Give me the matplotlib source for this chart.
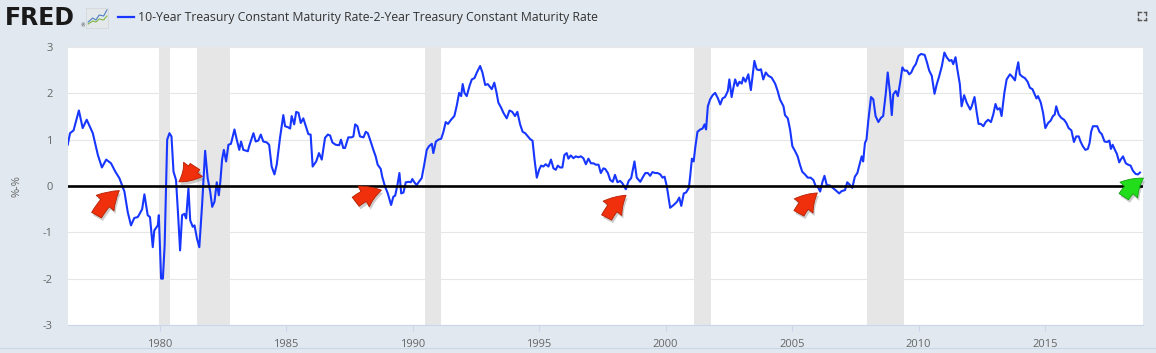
import matplotlib
matplotlib.use("Agg")
import matplotlib.pyplot as plt
import matplotlib.transforms as mtransforms
from matplotlib.lines import Line2D

# ---------------- data ----------------
years_76_83 = [1976.37, 1976.46, 1976.60, 1976.81, 1976.96, 1977.12, 1977.36, 1977.56, 1977.72, 1977.89,
               1978.08, 1978.25, 1978.41, 1978.61, 1978.74, 1978.87, 1979.00, 1979.14, 1979.31, 1979.40,
               1979.53, 1979.62, 1979.73, 1979.79, 1979.93, 1979.97, 1980.06, 1980.13, 1980.20, 1980.30,
               1980.39, 1980.47, 1980.55, 1980.65, 1980.74, 1980.81, 1980.89, 1980.98, 1981.05, 1981.14,
               1981.21, 1981.31, 1981.38, 1981.48, 1981.57, 1981.68, 1981.80, 1981.90, 1982.00, 1982.08,
               1982.17, 1982.26, 1982.34, 1982.40, 1982.47, 1982.54, 1982.63, 1982.72, 1982.82, 1982.96,
               1983.05, 1983.15, 1983.22, 1983.31, 1983.49]
spread_76_83 = [0.89, 1.14, 1.20, 1.63, 1.25, 1.43, 1.14, 0.67, 0.40, 0.57,
                0.49, 0.31, 0.17, -0.12, -0.56, -0.85, -0.69, -0.67, -0.50, -0.18,
                -0.63, -0.67, -1.32, -0.96, -0.85, -0.63, -2.00, -2.00, -1.28, 1.00,
                1.14, 1.07, 0.31, 0.13, -0.70, -1.39, -0.63, -0.60, -0.70, -0.05,
                -0.74, -0.88, -0.85, -1.14, -1.32, -0.41, 0.76, 0.17, -0.12, -0.45,
                -0.34, 0.08, -0.20, 0.09, 0.57, 0.78, 0.53, 0.89, 0.91, 1.22,
                1.00, 0.78, 0.96, 0.78, 0.75]

years_83_90 = [1983.54, 1983.71, 1983.80, 1983.90, 1984.00, 1984.10, 1984.24, 1984.33, 1984.43, 1984.54,
               1984.63, 1984.76, 1984.89, 1984.96, 1985.07, 1985.16, 1985.22, 1985.32, 1985.40, 1985.49,
               1985.58, 1985.68, 1985.82, 1985.88, 1985.97, 1986.05, 1986.19, 1986.30, 1986.41, 1986.54,
               1986.65, 1986.74, 1986.83, 1986.96, 1987.10, 1987.17, 1987.26, 1987.33, 1987.46, 1987.59,
               1987.66, 1987.73, 1987.82, 1987.92, 1988.06, 1988.15, 1988.23, 1988.32, 1988.45, 1988.54,
               1988.62, 1988.74, 1988.80, 1988.91, 1989.02, 1989.15, 1989.24, 1989.31, 1989.40, 1989.48,
               1989.55, 1989.64, 1989.73, 1989.84, 1989.93, 1989.99, 1990.07, 1990.16, 1990.25, 1990.36,
               1990.46]
spread_83_90 = [0.86, 1.14, 0.96, 0.98, 1.11, 0.96, 0.94, 0.89, 0.42, 0.25,
                0.46, 1.04, 1.53, 1.29, 1.27, 1.24, 1.51, 1.33, 1.60, 1.58,
                1.36, 1.46, 1.22, 1.12, 1.11, 0.42, 0.53, 0.71, 0.57, 1.04,
                1.11, 1.09, 0.94, 0.89, 0.88, 1.00, 0.82, 0.82, 1.05, 1.05,
                1.07, 1.33, 1.29, 1.07, 1.05, 1.17, 1.14, 1.00, 0.78, 0.64,
                0.46, 0.37, 0.20, -0.01, -0.16, -0.41, -0.23, -0.21, 0.02, 0.28,
                -0.16, -0.14, 0.08, 0.09, 0.08, 0.15, 0.08, 0.02, 0.09, 0.17,
                0.46]

years_90_97 = [1990.56, 1990.65, 1990.76, 1990.82, 1990.92, 1991.02, 1991.13, 1991.22, 1991.31, 1991.40,
               1991.52, 1991.65, 1991.74, 1991.84, 1991.92, 1991.98, 1992.05, 1992.14, 1992.25, 1992.34,
               1992.45, 1992.54, 1992.67, 1992.76, 1992.87, 1992.97, 1993.06, 1993.13, 1993.23, 1993.32,
               1993.39, 1993.50, 1993.59, 1993.72, 1993.83, 1993.94, 1994.05, 1994.14, 1994.25, 1994.35,
               1994.45, 1994.56, 1994.65, 1994.74, 1994.82, 1994.91, 1995.00, 1995.08, 1995.17, 1995.26,
               1995.37, 1995.47, 1995.57, 1995.66, 1995.74, 1995.83, 1995.92, 1996.00, 1996.09, 1996.16,
               1996.25, 1996.36, 1996.45, 1996.55, 1996.65, 1996.75, 1996.85, 1996.95, 1997.05, 1997.15,
               1997.24, 1997.35, 1997.44, 1997.54]
spread_90_97 = [0.78, 0.86, 0.91, 0.71, 0.96, 1.00, 1.02, 1.17, 1.38, 1.34,
                1.43, 1.51, 1.72, 2.01, 1.94, 2.20, 2.01, 1.94, 2.16, 2.30,
                2.33, 2.45, 2.59, 2.45, 2.18, 2.20, 2.14, 2.09, 2.23, 2.01,
                1.80, 1.69, 1.58, 1.46, 1.63, 1.60, 1.51, 1.60, 1.33, 1.17,
                1.14, 1.07, 1.01, 0.98, 0.57, 0.18, 0.35, 0.44, 0.42, 0.47,
                0.42, 0.57, 0.38, 0.35, 0.44, 0.40, 0.40, 0.67, 0.71, 0.59,
                0.66, 0.60, 0.64, 0.62, 0.64, 0.60, 0.47, 0.59, 0.49, 0.49,
                0.46, 0.46, 0.28, 0.38]

years_97_04 = [1997.61, 1997.72, 1997.81, 1997.91, 1998.00, 1998.10, 1998.20, 1998.29, 1998.43, 1998.54,
               1998.64, 1998.77, 1998.86, 1999.00, 1999.09, 1999.20, 1999.30, 1999.39, 1999.48, 1999.59,
               1999.68, 1999.79, 1999.88, 1999.96, 2000.05, 2000.18, 2000.32, 2000.45, 2000.54, 2000.62,
               2000.72, 2000.81, 2000.92, 2000.97, 2001.04, 2001.11, 2001.17, 2001.26, 2001.37, 2001.46,
               2001.54, 2001.60, 2001.67, 2001.76, 2001.86, 2001.96, 2002.07, 2002.16, 2002.25, 2002.35,
               2002.46, 2002.52, 2002.61, 2002.68, 2002.75, 2002.84, 2002.92, 2003.01, 2003.07, 2003.16,
               2003.27, 2003.37, 2003.44, 2003.51, 2003.60, 2003.69, 2003.77, 2003.86, 2003.96, 2004.06,
               2004.19, 2004.33, 2004.43, 2004.52, 2004.66]
spread_97_04 = [0.37, 0.28, 0.13, 0.09, 0.24, 0.08, 0.11, 0.06, -0.07, 0.11,
                0.17, 0.53, 0.18, 0.09, 0.18, 0.28, 0.28, 0.22, 0.30, 0.28,
                0.28, 0.25, 0.18, 0.20, -0.01, -0.47, -0.41, -0.34, -0.25, -0.43,
                -0.16, -0.14, -0.04, 0.20, 0.59, 0.53, 0.82, 1.17, 1.22, 1.24,
                1.33, 1.22, 1.72, 1.87, 1.96, 2.01, 1.89, 1.76, 1.89, 1.92,
                2.05, 2.30, 1.92, 2.12, 2.30, 2.16, 2.25, 2.21, 2.34, 2.25,
                2.41, 2.07, 2.38, 2.70, 2.52, 2.50, 2.52, 2.30, 2.45, 2.38,
                2.34, 2.21, 2.05, 1.87, 1.72]

years_04_11 = [2004.72, 2004.83, 2004.92, 2005.01, 2005.12, 2005.22, 2005.31, 2005.40, 2005.51, 2005.62,
               2005.73, 2005.84, 2005.94, 2006.01, 2006.11, 2006.20, 2006.28, 2006.37, 2006.50, 2006.63,
               2006.76, 2006.86, 2006.96, 2007.09, 2007.18, 2007.29, 2007.38, 2007.48, 2007.58, 2007.68,
               2007.75, 2007.81, 2007.88, 2007.94, 2008.01, 2008.12, 2008.21, 2008.30, 2008.41, 2008.51,
               2008.60, 2008.70, 2008.78, 2008.87, 2008.94, 2009.00, 2009.10, 2009.18, 2009.27, 2009.36,
               2009.44, 2009.54, 2009.63, 2009.71, 2009.80, 2009.89, 2010.00, 2010.10, 2010.24, 2010.33,
               2010.42, 2010.52, 2010.63, 2010.72, 2010.81, 2010.92, 2011.02, 2011.11, 2011.22, 2011.30,
               2011.37, 2011.46, 2011.54, 2011.63, 2011.70, 2011.80, 2011.90]
spread_04_11 = [1.53, 1.46, 1.22, 0.86, 0.75, 0.64, 0.46, 0.31, 0.25, 0.18,
                0.18, 0.13, -0.01, -0.01, -0.12, 0.09, 0.22, 0.02, 0.01, -0.05,
                -0.11, -0.16, -0.11, -0.09, 0.08, 0.02, -0.04, 0.20, 0.28, 0.49,
                0.64, 0.53, 0.93, 1.00, 1.40, 1.92, 1.87, 1.51, 1.38, 1.47,
                1.51, 1.98, 2.45, 2.01, 1.53, 1.98, 2.05, 1.94, 2.23, 2.56,
                2.49, 2.49, 2.41, 2.45, 2.56, 2.63, 2.81, 2.85, 2.83, 2.67,
                2.49, 2.38, 1.99, 2.20, 2.36, 2.59, 2.88, 2.78, 2.70, 2.72,
                2.63, 2.78, 2.49, 2.20, 1.72, 1.96, 1.80]

years_12_18 = [2012.04, 2012.10, 2012.21, 2012.30, 2012.37, 2012.46, 2012.56, 2012.65, 2012.75, 2012.86,
               2012.95, 2013.04, 2013.12, 2013.21, 2013.28, 2013.39, 2013.48, 2013.61, 2013.70, 2013.81,
               2013.87, 2013.94, 2014.00, 2014.10, 2014.20, 2014.31, 2014.40, 2014.50, 2014.59, 2014.66,
               2014.72, 2014.83, 2014.92, 2015.01, 2015.12, 2015.22, 2015.31, 2015.38, 2015.44, 2015.54,
               2015.64, 2015.75, 2015.84, 2015.93, 2016.04, 2016.14, 2016.23, 2016.33, 2016.40, 2016.49,
               2016.59, 2016.69, 2016.76, 2016.82, 2016.89, 2016.98, 2017.06, 2017.15, 2017.24, 2017.35,
               2017.45, 2017.54, 2017.60, 2017.67, 2017.76, 2017.84, 2017.93, 2017.99, 2018.08, 2018.19,
               2018.28, 2018.38, 2018.47, 2018.58, 2018.67, 2018.75]
spread_12_18 = [1.65, 1.72, 1.92, 1.58, 1.34, 1.34, 1.29, 1.38, 1.43, 1.38,
                1.54, 1.77, 1.65, 1.68, 1.51, 2.01, 2.30, 2.41, 2.36, 2.28,
                2.49, 2.67, 2.41, 2.36, 2.33, 2.25, 2.12, 2.09, 1.98, 1.89,
                1.94, 1.80, 1.58, 1.25, 1.36, 1.41, 1.51, 1.54, 1.72, 1.54,
                1.47, 1.43, 1.36, 1.25, 1.20, 0.95, 1.07, 1.07, 0.96, 0.86,
                0.78, 0.80, 0.93, 1.17, 1.29, 1.29, 1.29, 1.17, 1.12, 0.96,
                0.95, 0.98, 0.80, 0.89, 0.78, 0.69, 0.51, 0.57, 0.64, 0.49,
                0.46, 0.44, 0.33, 0.26, 0.25, 0.29]

recession_start = [1979.98, 1981.48, 1990.49, 2001.14, 2007.95]
recession_end = [1980.43, 1982.80, 1991.13, 2001.80, 2009.44]

x_ticks = [1980, 1985, 1990, 1995, 2000, 2005, 2010, 2015]
y_ticks = [-3, -2, -1, 0, 1, 2, 3]

# annotation arrows: (tip_year, tip_value, tail_year, tail_value)
red_arrows = [(1978.41, -0.10, 1977.51, -0.63),
              (1980.76, 0.09, 1981.40, 0.42),
              (1988.77, -0.09, 1987.75, -0.34),
              (1998.44, -0.20, 1997.67, -0.68),
              (2006.00, -0.15, 2005.27, -0.59)]
green_arrows = [(2018.89, 0.17, 2018.11, -0.23)]

series_label = "10-Year Treasury Constant Maturity Rate-2-Year Treasury Constant Maturity Rate"

# ---------------- figure ----------------
W, H = 1156, 353
BG = "#e1e8ef"
fig = plt.figure(figsize=(W / 100, H / 100), dpi=100, facecolor=BG)

L, R, T, B = 68, 1143, 47, 325
ax = fig.add_axes([L / W, 1 - B / H, (R - L) / W, (B - T) / H])
ax.set_facecolor("white")

years = years_76_83 + years_83_90 + years_90_97 + years_97_04 + years_04_11 + years_12_18
spread = spread_76_83 + spread_83_90 + spread_90_97 + spread_97_04 + spread_04_11 + spread_12_18

for s, e in zip(recession_start, recession_end):
    ax.axvspan(s, e, color="#e6e6e6", lw=0, zorder=0.5)

for yv in y_ticks:
    ax.axhline(yv, color="#e6e6e6", lw=0.8, zorder=0.6)

ax.axhline(0, color="black", lw=1.9, zorder=3)
ax.plot(years, spread, color="#1736ff", lw=1.5, zorder=2, solid_joinstyle="round")

ax.set_xlim(1976.38, 2018.87)
ax.set_ylim(-3, 3)
ax.set_xticks(x_ticks)
ax.set_xticklabels([str(t) for t in x_ticks])
ax.set_yticks(y_ticks)
ax.set_yticklabels([str(t) for t in y_ticks])

for sp in ["top", "right", "left"]:
    ax.spines[sp].set_visible(False)
ax.spines["bottom"].set_color("#ccd6eb")
ax.spines["bottom"].set_linewidth(0.8)

ax.tick_params(axis="y", length=0, pad=11, labelsize=8, labelcolor="#666666")
ax.tick_params(axis="x", length=4, width=0.8, color="#ccd6eb", pad=6,
               labelsize=8, labelcolor="#666666")
for lab in ax.get_xticklabels() + ax.get_yticklabels():
    lab.set_family("Open Sans")

fig.text(17 / W, 1 - 186 / H, "%-%", rotation=90, ha="center", va="center",
         color="#666666", fontsize=8, family="Open Sans")


def arrow(tip_x, tip_y, tail_x, tail_y, fc, ec):
    style = "simple,head_length=0.8,head_width=1.0,tail_width=0.48"
    shadow_tr = mtransforms.offset_copy(ax.transData, fig=fig, x=1.5, y=-3, units="dots")
    ax.annotate("", xy=(tip_x, tip_y), xytext=(tail_x, tail_y),
                xycoords=shadow_tr, textcoords=shadow_tr,
                arrowprops=dict(arrowstyle=style, mutation_scale=17, fc="#000000", ec="none",
                                alpha=0.2, shrinkA=0, shrinkB=0,
                                connectionstyle="arc3,rad=-0.12"),
                annotation_clip=False, zorder=4)
    ax.annotate("", xy=(tip_x, tip_y), xytext=(tail_x, tail_y),
                arrowprops=dict(arrowstyle=style, mutation_scale=17, fc=fc, ec=ec, lw=0.6,
                                shrinkA=0, shrinkB=0, connectionstyle="arc3,rad=-0.12",
                                capstyle="round", joinstyle="round"),
                annotation_clip=False, zorder=5)


for a in red_arrows:
    arrow(*a, fc="#f0300c", ec="#b52000")
for a in green_arrows:
    arrow(*a, fc="#22dd1a", ec="#12a010")

# bottom faint line
fig.add_artist(Line2D([0, 1], [1 - 348 / H, 1 - 348 / H], color="#ccd6eb", lw=0.8))

# ---------------- header ----------------
fig.text(5 / W, 1 - 18 / H, "FRED", ha="left", va="center", fontsize=17, fontweight="heavy",
         family="DejaVu Sans", color="#1a1a1a")
fig.text(80 / W, 1 - 26 / H, "®", ha="left", va="center", fontsize=3.5, color="#333333")
icon = fig.add_axes([86 / W, 1 - 28 / H, 22 / W, 20 / H])
icon.set_facecolor("#e4e8ea")
icon.set_xlim(0, 10)
icon.set_ylim(0, 10)
icon.plot([1, 3, 4.5, 6, 8, 9.5], [3, 5, 4, 6.5, 6, 9], color="#4d7fc4", lw=0.8)
icon.plot([1, 3, 4.5, 6, 8, 9.5], [2, 3.5, 3, 4.5, 4, 6], color="#7fb843", lw=0.8)
icon.set_xticks([])
icon.set_yticks([])
for sp in icon.spines.values():
    sp.set_color("#d0d4d6")
    sp.set_linewidth(0.5)

fig.add_artist(Line2D([118 / W, 134 / W], [1 - 17 / H, 1 - 17 / H], color="#1736ff", lw=1.6))
fig.text(138 / W, 1 - 17 / H, series_label, ha="left", va="center", fontsize=8.8,
         family="Open Sans", color="#333333")

# fullscreen icon
cx, cy, d, c = 1142, 16, 4, 2.5
for sx in (-1, 1):
    for sy in (-1, 1):
        x0, y0 = cx + sx * d, cy + sy * d
        fig.add_artist(Line2D([x0 / W, (x0 - sx * c) / W], [1 - y0 / H, 1 - y0 / H],
                              color="#555555", lw=1.0))
        fig.add_artist(Line2D([x0 / W, x0 / W], [1 - y0 / H, 1 - (y0 - sy * c) / H],
                              color="#555555", lw=1.0))

fig.savefig("out.png", dpi=100, facecolor=BG)
